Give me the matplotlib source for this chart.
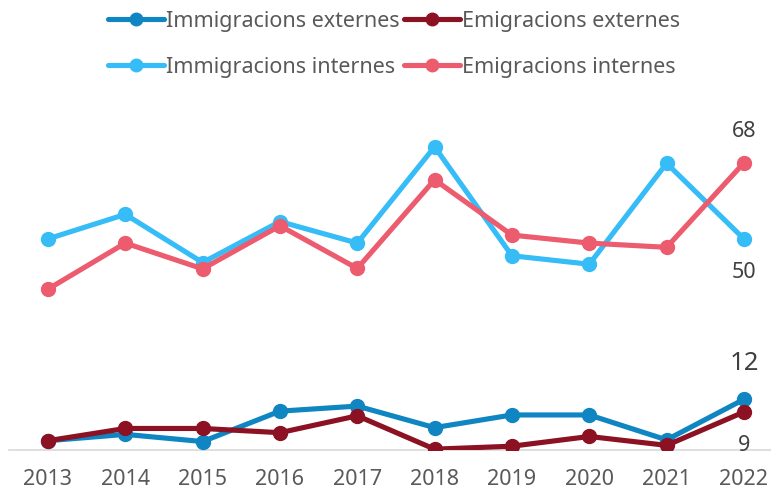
import numpy as np
import matplotlib.pyplot as plt

# data
years = ["2013", "2014", "2015", "2016", "2017", "2018", "2019", "2020", "2021", "2022"]
immigracions_externes = [2.2, 3.7, 2.0, 9.2, 10.4, 5.3, 8.3, 8.3, 2.4, 12]
emigracions_externes = [2.2, 5.1, 5.1, 4.1, 8.1, 0.2, 0.9, 3.2, 1.1, 9]
immigracions_internes = [50, 55.8, 44.4, 54.1, 49, 71.8, 46, 44, 67.9, 50]
emigracions_internes = [38.1, 49, 42.9, 53.1, 43, 64, 50.9, 49, 48, 68]

series = [
    ("Immigracions externes", immigracions_externes, "#0F86C2"),
    ("Immigracions internes", immigracions_internes, "#36BCF7"),
    ("Emigracions externes", emigracions_externes, "#8C1122"),
    ("Emigracions internes", emigracions_internes, "#EC5B6E"),
]

# end-value label: (offset in pixels, font size)
end_labels = {
    "Immigracions externes": (36, 18.5),
    "Immigracions internes": (-34, 15.5),
    "Emigracions externes": (-34, 15.5),
    "Emigracions internes": (31, 15.5),
}

plt.rcParams["font.family"] = ["Noto Sans", "DejaVu Sans"]

fig = plt.figure(figsize=(7.71, 4.92), dpi=100)
ax = fig.add_axes([9.3 / 771, 42 / 492, 1 - 9.3 / 771, 337.8 / 492])

x = np.arange(len(years))
for name, vals, color in series:
    ax.plot(x, vals, color=color, lw=3.7, marker="o", ms=10,
            solid_capstyle="round", label=name, zorder=3)
    off, fs = end_labels[name]
    ax.annotate(f"{vals[-1]:.0f}", (x[-1], vals[-1]),
                xytext=(0, off), textcoords="offset pixels",
                ha="center", va="center", fontsize=fs, color="#404040",
                annotation_clip=False)

ax.set_xlim(-0.5, 9.35)
ax.set_ylim(0, 80)
ax.set_xticks(x)
ax.set_xticklabels(years, fontsize=15.5, color="#595959")
ax.tick_params(axis="x", length=0, pad=14)
ax.set_yticks([])
for s in ["top", "right", "left"]:
    ax.spines[s].set_visible(False)
ax.spines["bottom"].set_color("#D9D9D9")
ax.spines["bottom"].set_linewidth(1.2)

fig.legend(loc="upper center", bbox_to_anchor=(394 / 771, 1.0), ncol=2,
           frameon=False, fontsize=15.5, labelcolor="#595959",
           handlelength=2.6, handletextpad=0.1, columnspacing=0.2,
           labelspacing=1.15, borderaxespad=0.1, markerscale=0.9)

fig.savefig("out.png", dpi=100)
